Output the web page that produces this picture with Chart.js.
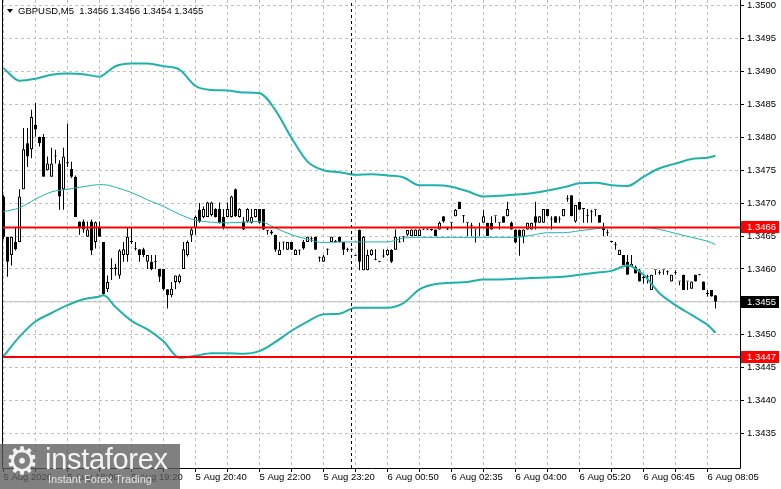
<!DOCTYPE html>
<html>
<head>
<meta charset="utf-8">
<script src="https://cdn.jsdelivr.net/npm/chart.js@4/dist/chart.umd.min.js"></script>
<style>
html,body{margin:0;padding:0;background:#fff;}
#wrap{position:relative;width:781px;height:489px;overflow:hidden;background:#fff;}
canvas{display:block;}
#tri{position:absolute;left:7px;top:9px;width:0;height:0;border-left:3px solid transparent;border-right:3px solid transparent;border-top:4px solid #000;}
#title{position:absolute;left:18px;top:5px;font:9.5px/12px 'Liberation Sans',Arial,sans-serif;color:#000;white-space:pre;}
#wm{position:absolute;left:0;top:444px;width:180px;height:45px;background:rgba(92,92,92,0.78);}
#gear{position:absolute;left:5px;top:439px;font:38px/44px 'DejaVu Sans',sans-serif;color:#f2f2f2;}
#wmt{position:absolute;left:45px;top:445px;font:29px/29px 'Liberation Sans',Arial,sans-serif;color:#f4f4f4;letter-spacing:-0.3px;}
#wms{position:absolute;left:48px;top:474px;font:11px/11px 'Liberation Sans',Arial,sans-serif;color:#e6e6e6;}
</style>
</head>
<body>
<div id="wrap">
<canvas id="c" width="781" height="489"></canvas>
<div id="tri"></div>
<div id="title">GBPUSD,M5  1.3456 1.3456 1.3454 1.3455</div>
<div id="wm"></div>
<div id="gear">⚙</div>
<div id="wmt">instaforex</div>
<div id="wms">Instant Forex Trading</div>
</div>
<script>
// ---- data (M5 bars, index 0..178) ----
const open = [
1.34710,1.34649,1.34621,1.34641,1.34641,1.34721,1.34791,1.34782,1.34819,1.34801,
1.34801,1.34750,1.34740,1.34771,1.34760,1.34721,1.34760,1.34752,1.34740,1.34672,
1.34672,1.34649,1.34672,1.34641,1.34662,1.34641,1.34569,1.34600,1.34600,1.34590,
1.34621,1.34621,1.34641,1.34630,1.34630,1.34630,1.34611,1.34611,1.34610,1.34600,
1.34600,1.34569,1.34560,1.34580,1.34580,1.34600,1.34621,1.34651,1.34662,1.34690,
1.34679,1.34679,1.34682,1.34691,1.34691,1.34679,1.34679,1.34679,1.34721,1.34679,
1.34672,1.34672,1.34670,1.34679,1.34691,1.34691,1.34659,1.34654,1.34652,1.34621,
1.34641,1.34629,1.34641,1.34621,1.34629,1.34641,1.34641,1.34646,1.34649,1.34617,
1.34611,1.34630,1.34641,1.34642,1.34649,1.34641,1.34629,1.34630,1.34621,1.34659,
1.34598,1.34598,1.34621,1.34614,1.34612,1.34620,1.34621,1.34629,1.34629,1.34641,
1.34649,1.34652,1.34650,1.34650,1.34650,1.34660,1.34660,1.34659,1.34660,1.34660,
1.34680,1.34660,1.34670,1.34680,1.34702,1.34680,1.34670,1.34665,1.34660,1.34662,
1.34670,1.34670,1.34670,1.34680,1.34670,1.34680,1.34680,1.34670,1.34660,1.34659,
1.34649,1.34660,1.34660,1.34680,1.34670,1.34670,1.34691,1.34675,1.34680,1.34675,
1.34680,1.34706,1.34712,1.34672,1.34702,1.34691,1.34680,1.34686,1.34690,1.34682,
1.34664,1.34655,1.34641,1.34636,1.34621,1.34621,1.34611,1.34603,1.34603,1.34598,
1.34586,1.34588,1.34568,1.34598,1.34594,1.34598,1.34595,1.34581,1.34594,1.34581,
1.34591,1.34581,1.34570,1.34591,1.34591,1.34581,1.34562,1.34568,1.34560];
const high = [
1.34712,1.34649,1.34649,1.34663,1.34721,1.34814,1.34814,1.34842,1.34852,1.34801,
1.34805,1.34771,1.34784,1.34781,1.34765,1.34784,1.34821,1.34763,1.34742,1.34672,
1.34675,1.34672,1.34675,1.34672,1.34672,1.34641,1.34590,1.34616,1.34608,1.34630,
1.34641,1.34662,1.34662,1.34641,1.34630,1.34632,1.34621,1.34621,1.34621,1.34600,
1.34600,1.34569,1.34580,1.34590,1.34592,1.34641,1.34643,1.34662,1.34681,1.34700,
1.34695,1.34702,1.34702,1.34692,1.34701,1.34691,1.34701,1.34711,1.34722,1.34692,
1.34679,1.34692,1.34691,1.34691,1.34691,1.34691,1.34659,1.34659,1.34652,1.34641,
1.34641,1.34641,1.34641,1.34630,1.34629,1.34644,1.34649,1.34649,1.34649,1.34619,
1.34621,1.34631,1.34649,1.34644,1.34649,1.34641,1.34632,1.34631,1.34621,1.34660,
1.34650,1.34629,1.34630,1.34630,1.34612,1.34630,1.34630,1.34630,1.34660,1.34649,
1.34649,1.34659,1.34660,1.34660,1.34660,1.34661,1.34661,1.34661,1.34660,1.34672,
1.34680,1.34664,1.34670,1.34691,1.34702,1.34682,1.34670,1.34670,1.34660,1.34670,
1.34690,1.34670,1.34680,1.34680,1.34670,1.34680,1.34702,1.34672,1.34660,1.34660,
1.34660,1.34670,1.34670,1.34702,1.34680,1.34691,1.34691,1.34680,1.34680,1.34680,
1.34691,1.34712,1.34712,1.34697,1.34702,1.34691,1.34691,1.34690,1.34690,1.34682,
1.34670,1.34660,1.34642,1.34641,1.34629,1.34621,1.34621,1.34621,1.34605,1.34600,
1.34591,1.34591,1.34591,1.34598,1.34598,1.34598,1.34598,1.34591,1.34598,1.34581,
1.34591,1.34581,1.34581,1.34591,1.34592,1.34581,1.34568,1.34568,1.34560];
const low = [
1.34645,1.34588,1.34605,1.34628,1.34641,1.34721,1.34755,1.34768,1.34801,1.34786,
1.34740,1.34750,1.34740,1.34760,1.34690,1.34690,1.34755,1.34738,1.34679,1.34652,
1.34655,1.34649,1.34621,1.34631,1.34649,1.34560,1.34565,1.34583,1.34590,1.34585,
1.34611,1.34611,1.34638,1.34628,1.34611,1.34618,1.34600,1.34598,1.34600,1.34580,
1.34567,1.34540,1.34557,1.34569,1.34578,1.34600,1.34619,1.34641,1.34652,1.34670,
1.34677,1.34679,1.34680,1.34678,1.34669,1.34660,1.34679,1.34678,1.34679,1.34678,
1.34659,1.34670,1.34669,1.34678,1.34669,1.34659,1.34652,1.34652,1.34626,1.34621,
1.34629,1.34629,1.34629,1.34621,1.34621,1.34629,1.34641,1.34641,1.34629,1.34611,
1.34611,1.34621,1.34641,1.34640,1.34640,1.34621,1.34626,1.34626,1.34620,1.34598,
1.34598,1.34598,1.34620,1.34613,1.34610,1.34617,1.34620,1.34609,1.34629,1.34640,
1.34641,1.34650,1.34650,1.34650,1.34650,1.34659,1.34659,1.34658,1.34650,1.34660,
1.34670,1.34659,1.34660,1.34680,1.34691,1.34670,1.34650,1.34650,1.34640,1.34650,
1.34670,1.34650,1.34660,1.34670,1.34660,1.34670,1.34680,1.34660,1.34639,1.34620,
1.34639,1.34660,1.34660,1.34660,1.34670,1.34670,1.34680,1.34660,1.34670,1.34670,
1.34680,1.34702,1.34680,1.34670,1.34690,1.34670,1.34670,1.34670,1.34680,1.34670,
1.34650,1.34650,1.34640,1.34629,1.34621,1.34606,1.34591,1.34603,1.34593,1.34581,
1.34578,1.34578,1.34568,1.34591,1.34591,1.34591,1.34591,1.34581,1.34591,1.34575,
1.34568,1.34568,1.34570,1.34581,1.34590,1.34568,1.34558,1.34558,1.34540];
const close = [
1.34649,1.34611,1.34649,1.34630,1.34710,1.34782,1.34771,1.34831,1.34812,1.34791,
1.34740,1.34760,1.34760,1.34772,1.34710,1.34771,1.34762,1.34740,1.34679,1.34662,
1.34660,1.34660,1.34628,1.34671,1.34649,1.34562,1.34580,1.34601,1.34602,1.34628,
1.34630,1.34649,1.34642,1.34631,1.34621,1.34621,1.34621,1.34600,1.34611,1.34588,
1.34569,1.34560,1.34570,1.34590,1.34590,1.34630,1.34641,1.34660,1.34679,1.34672,
1.34691,1.34701,1.34701,1.34679,1.34670,1.34662,1.34691,1.34710,1.34680,1.34691,
1.34660,1.34691,1.34679,1.34691,1.34670,1.34660,1.34658,1.34657,1.34629,1.34629,
1.34640,1.34641,1.34629,1.34629,1.34628,1.34631,1.34649,1.34645,1.34629,1.34616,
1.34619,1.34629,1.34649,1.34641,1.34641,1.34629,1.34630,1.34629,1.34620,1.34611,
1.34649,1.34621,1.34629,1.34615,1.34611,1.34619,1.34629,1.34611,1.34649,1.34640,
1.34648,1.34659,1.34660,1.34660,1.34660,1.34660,1.34660,1.34660,1.34650,1.34670,
1.34672,1.34660,1.34670,1.34690,1.34691,1.34680,1.34670,1.34666,1.34660,1.34663,
1.34680,1.34650,1.34660,1.34680,1.34670,1.34670,1.34691,1.34660,1.34640,1.34649,
1.34660,1.34670,1.34670,1.34670,1.34680,1.34691,1.34680,1.34676,1.34670,1.34676,
1.34691,1.34707,1.34680,1.34697,1.34690,1.34691,1.34681,1.34687,1.34690,1.34670,
1.34659,1.34656,1.34641,1.34637,1.34629,1.34606,1.34591,1.34608,1.34593,1.34581,
1.34587,1.34589,1.34591,1.34598,1.34595,1.34598,1.34596,1.34591,1.34595,1.34581,
1.34568,1.34581,1.34581,1.34581,1.34591,1.34568,1.34563,1.34558,1.34550];

// Bollinger band readings (bar index -> value)
const bandIdx = [0,4,8,12,16,20,24,25,28,32,36,40,44,48,52,56,60,64,68,72,76,80,84,88,92,96,100,104,108,112,116,120,124,128,132,136,140,144,148,152,156,160,164,168,172,176,178];
const bbUpper = [1.34905,1.34886,1.34889,1.34895,1.34897,1.34896,1.34892,1.34895,1.34908,1.34912,1.34912,1.34908,1.34903,1.34878,1.34872,1.34871,1.34868,1.34867,1.34841,1.34799,1.34763,1.34750,1.34747,1.34743,1.34744,1.34742,1.34739,1.34727,1.34727,1.34725,1.34718,1.34710,1.34711,1.34713,1.34715,1.34719,1.34724,1.34730,1.34731,1.34727,1.34726,1.34740,1.34753,1.34760,1.34767,1.34769,1.34772];
const bbMiddle = [1.34687,1.34693,1.34706,1.34717,1.34721,1.34725,1.34728,1.34728,1.34724,1.34716,1.34705,1.34695,1.34683,1.34674,1.34671,1.34670,1.34671,1.34672,1.34662,1.34652,1.34645,1.34640,1.34641,1.34641,1.34641,1.34641,1.34647,1.34648,1.34648,1.34648,1.34648,1.34648,1.34648,1.34648,1.34651,1.34655,1.34655,1.34658,1.34661,1.34663,1.34663,1.34663,1.34660,1.34654,1.34648,1.34642,1.34637];
const bbLower = [1.34467,1.34497,1.34520,1.34533,1.34545,1.34554,1.34558,1.34560,1.34542,1.34521,1.34508,1.34490,1.34465,1.34468,1.34472,1.34472,1.34471,1.34475,1.34489,1.34506,1.34520,1.34531,1.34532,1.34541,1.34541,1.34541,1.34548,1.34569,1.34577,1.34579,1.34580,1.34584,1.34584,1.34585,1.34586,1.34587,1.34588,1.34591,1.34594,1.34597,1.34605,1.34591,1.34563,1.34545,1.34530,1.34515,1.34503];

const hLevels = [1.34663, 1.34466];      // red horizontal levels
const daySeparatorBar = 87;               // dashed day separator
const yTicks = [1.3435,1.3440,1.3445,1.3450,1.3455,1.3460,1.3465,1.3470,1.3475,1.3480,1.3485,1.3490,1.3495,1.3500];
const xGridBars = [0,8,16,24,32,40,48,56,64,72,80,88,96,104,112,120,128,136,144,152,160,168,176];
const xLabelBars = [0,16,32,48,64,80,96,112,128,144,160,176];
const xLabels = ["5 Aug 2026","5 Aug 18:00","5 Aug 19:20","5 Aug 20:40","5 Aug 22:00","5 Aug 23:20","6 Aug 00:50","6 Aug 02:35","6 Aug 04:00","6 Aug 05:20","6 Aug 06:45","6 Aug 08:05"];

const X_MIN = -0.125, X_MAX = 184.125;
const Y_MIN = 1.3429742, Y_MAX = 1.3500866;
const TEAL = '#20b2aa';
const FONT = "'Liberation Sans', Arial, sans-serif";

const bars = open.map((_, i) => i);
const lastPrice = close[close.length - 1];
const bodyColors = bars.map(i => (close[i] - open[i]) > 0.000025 ? '#ffffff' : '#000000');

const overlay = {
  id: 'overlay',
  afterDraw(chart) {
    const {ctx, chartArea: a, scales: {y}} = chart;
    ctx.save();
    ctx.strokeStyle = '#000';
    ctx.lineWidth = 1;
    ctx.beginPath();
    ctx.moveTo(a.left - 0.5, 0);
    ctx.lineTo(a.left - 0.5, a.bottom + 0.5);
    ctx.lineTo(a.right + 0.5, a.bottom + 0.5);
    ctx.lineTo(a.right + 0.5, 0);
    ctx.stroke();
    const boxes = [[hLevels[0], '#ff0000'], [hLevels[1], '#ff0000'], [lastPrice, '#000000']];
    ctx.font = "9.5px " + FONT;
    ctx.textBaseline = 'middle';
    ctx.textAlign = 'left';
    for (const [v, c] of boxes) {
      const py = y.getPixelForValue(v);
      ctx.fillStyle = c;
      ctx.fillRect(a.right + 1, Math.round(py) - 6, 38, 12);
      ctx.fillStyle = '#ffffff';
      ctx.fillText(v.toFixed(4), a.right + 7, Math.round(py) + 0.5);
    }
    ctx.restore();
  }
};

const hline = (v, color, w, order) => ({
  type: 'line', data: [{x: X_MIN, y: v}, {x: X_MAX, y: v}],
  borderColor: color, borderWidth: w, pointRadius: 0, order: order
});
const band = (vals, w) => ({
  type: 'line', data: bandIdx.map((x, k) => ({x, y: vals[k]})),
  borderColor: TEAL, borderWidth: w, pointRadius: 0, cubicInterpolationMode: 'monotone', order: 5
});

new Chart(document.getElementById('c'), {
  type: 'bar',
  data: {
    datasets: [
      hline(lastPrice, '#c0c0c0', 1, 20),
      { type: 'bar', label: 'wick', data: bars.map(i => ({x: i, y: [low[i], high[i]]})),
        backgroundColor: '#000', borderWidth: 0, barThickness: 1, minBarLength: 1,
        grouped: false, inflateAmount: 0, order: 12 },
      { type: 'bar', label: 'body', data: bars.map(i => ({x: i, y: [open[i], close[i]]})),
        backgroundColor: bodyColors, borderColor: '#000', borderWidth: 1, borderSkipped: false,
        barThickness: 3, minBarLength: 1, grouped: false, inflateAmount: 0, order: 11 },
      band(bbUpper, 2),
      band(bbMiddle, 1),
      band(bbLower, 2),
      { type: 'line', label: 'sep', data: [{x: daySeparatorBar, y: Y_MIN}, {x: daySeparatorBar, y: Y_MAX}],
        borderColor: '#000', borderWidth: 1, borderDash: [3, 3], pointRadius: 0, order: 3 },
      hline(hLevels[0], '#ff0000', 2, 1),
      hline(hLevels[1], '#ff0000', 2, 1)
    ]
  },
  options: {
    responsive: false,
    animation: false,
    events: [],
    layout: { padding: { left: 3, top: 0, right: 0, bottom: 0 } },
    plugins: { legend: { display: false }, tooltip: { enabled: false }, title: { display: false } },
    scales: {
      x: {
        type: 'linear', min: X_MIN, max: X_MAX, offset: false,
        grid: { offset: false, color: '#c0c0c0', lineWidth: 1, drawTicks: true, tickLength: 4, tickColor: '#000' },
        border: { display: false, dash: [3, 3] },
        afterBuildTicks: s => { s.ticks = xGridBars.map(v => ({value: v})); },
        afterFit: s => { s.height = 21; s.paddingLeft = 0; s.paddingRight = 0; },
        ticks: {
          autoSkip: false, maxRotation: 0, minRotation: 0, align: 'start', padding: 0,
          color: '#000', font: { family: FONT, size: 9.5 },
          callback: v => { const k = xLabelBars.indexOf(v); return k >= 0 ? xLabels[k] : ''; }
        }
      },
      y: {
        type: 'linear', position: 'right', min: Y_MIN, max: Y_MAX, beginAtZero: false,
        grid: { color: '#c0c0c0', lineWidth: 1, drawTicks: true, tickLength: 4, tickColor: '#000' },
        border: { display: false, dash: [3, 3] },
        afterBuildTicks: s => { s.ticks = yTicks.map(v => ({value: v})); },
        afterFit: s => { s.width = 41; s.paddingTop = 0; s.paddingBottom = 0; },
        ticks: { padding: 3, color: '#000', font: { family: FONT, size: 9.5 }, callback: v => Number(v).toFixed(4) }
      }
    }
  },
  plugins: [overlay]
});
</script>
</body>
</html>
